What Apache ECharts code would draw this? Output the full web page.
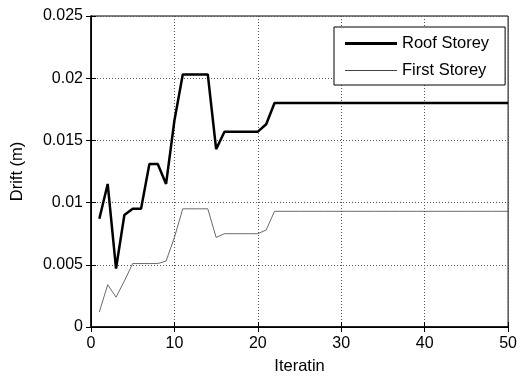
<!DOCTYPE html>
<html>
<head>
<meta charset="utf-8">
<script src="https://cdn.jsdelivr.net/npm/echarts@6/dist/echarts.min.js"></script>
<style>
  html, body { margin: 0; padding: 0; background: #fff; }
  #chart { width: 520px; height: 380px; }
</style>
</head>
<body>
<div id="chart"></div>
<script>
// iterations 1..50
const iterations = Array.from({ length: 50 }, (_, i) => i + 1);

const roofStorey = [
  0.0087, 0.0115, 0.0047, 0.0090, 0.0095, 0.0095, 0.0131, 0.0131, 0.0115, 0.0166,
  0.0203, 0.0203, 0.0203, 0.0203, 0.0143, 0.0157, 0.0157, 0.0157, 0.0157, 0.0157,
  0.0163, 0.0180, 0.0180, 0.0180, 0.0180, 0.0180, 0.0180, 0.0180, 0.0180, 0.0180,
  0.0180, 0.0180, 0.0180, 0.0180, 0.0180, 0.0180, 0.0180, 0.0180, 0.0180, 0.0180,
  0.0180, 0.0180, 0.0180, 0.0180, 0.0180, 0.0180, 0.0180, 0.0180, 0.0180, 0.0180
];

const firstStorey = [
  0.0012, 0.0034, 0.0024, 0.0037, 0.0051, 0.0051, 0.0051, 0.0051, 0.0053, 0.0072,
  0.0095, 0.0095, 0.0095, 0.0095, 0.0072, 0.0075, 0.0075, 0.0075, 0.0075, 0.0075,
  0.0078, 0.0093, 0.0093, 0.0093, 0.0093, 0.0093, 0.0093, 0.0093, 0.0093, 0.0093,
  0.0093, 0.0093, 0.0093, 0.0093, 0.0093, 0.0093, 0.0093, 0.0093, 0.0093, 0.0093,
  0.0093, 0.0093, 0.0093, 0.0093, 0.0093, 0.0093, 0.0093, 0.0093, 0.0093, 0.0093
];

const chart = echarts.init(document.getElementById("chart"));
const font = "Liberation Sans";

function pairs(ys) {
  return iterations.map((x, i) => [x, ys[i]]);
}

const splitLine = { show: true, lineStyle: { color: "#555", type: [1, 2], width: 1 } };
const tick = { show: true, inside: true, length: 5, lineStyle: { color: "#000" } };

chart.setOption({
  animation: false,
  backgroundColor: "#fff",
  textStyle: { fontFamily: font },
  grid: { left: 91, right: 10, top: 16, bottom: 47, show: true, borderColor: "#000", borderWidth: 1 },
  legend: {
    left: 334,
    top: 27,
    orient: "vertical",
    itemWidth: 52,
    itemHeight: 16,
    itemGap: 10,
    padding: [8, 16, 6, 11],
    backgroundColor: "#fff",
    borderColor: "#000",
    borderWidth: 1,
    textStyle: { fontFamily: font, fontSize: 16.5, color: "#000" },
    data: [
      { name: "Roof Storey", icon: "path://M0,0H100V6H0Z" },
      { name: "First Storey", icon: "path://M0,0H100V1.6H0Z" }
    ]
  },
  xAxis: [
    {
      type: "value", min: 0, max: 50, interval: 10,
      name: "Iteratin", nameLocation: "middle", nameGap: 31,
      nameTextStyle: { fontFamily: font, fontSize: 16.5, color: "#000" },
      axisLine: { show: true, onZero: false, lineStyle: { color: "#000", width: 1.5 } },
      axisTick: tick,
      axisLabel: { fontFamily: font, fontSize: 16, color: "#000", margin: 9 },
      splitLine: splitLine
    },
    {
      type: "value", position: "top", min: 0, max: 50, interval: 10,
      axisLine: { show: true, lineStyle: { color: "#000" } },
      axisTick: tick, axisLabel: { show: false }, splitLine: { show: false }
    }
  ],
  yAxis: [
    {
      type: "value", min: 0, max: 0.025, interval: 0.005,
      name: "Drift (m)", nameLocation: "middle", nameGap: 65,
      nameTextStyle: { fontFamily: font, fontSize: 16.5, color: "#000" },
      axisLine: { show: true, lineStyle: { color: "#000", width: 1.5 } },
      axisTick: tick,
      axisLabel: { fontFamily: font, fontSize: 16, color: "#000", margin: 8 },
      splitLine: splitLine
    },
    {
      type: "value", position: "right", min: 0, max: 0.025, interval: 0.005,
      axisLine: { show: true, lineStyle: { color: "#000" } },
      axisTick: tick, axisLabel: { show: false }, splitLine: { show: false }
    }
  ],
  series: [
    {
      name: "Roof Storey", type: "line", symbol: "none",
      data: pairs(roofStorey),
      lineStyle: { color: "#000", width: 2.5 },
      itemStyle: { color: "#000" }
    },
    {
      name: "First Storey", type: "line", symbol: "none",
      data: pairs(firstStorey),
      lineStyle: { color: "#444", width: 0.8 },
      itemStyle: { color: "#444" }
    }
  ]
});
</script>
</body>
</html>
